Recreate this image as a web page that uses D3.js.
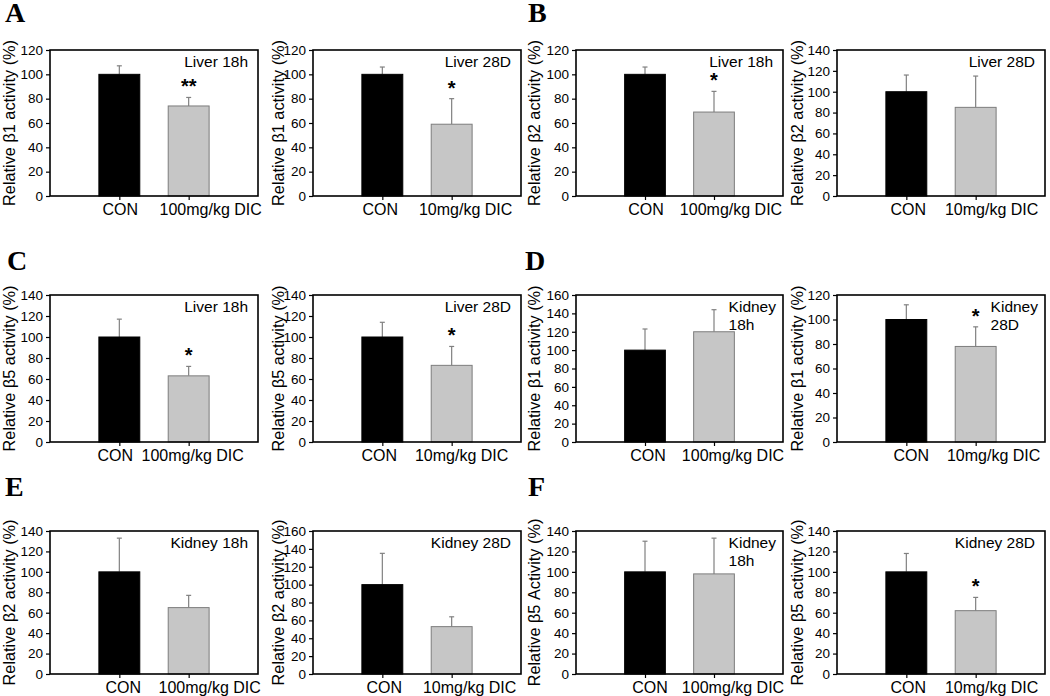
<!DOCTYPE html>
<html><head><meta charset="utf-8">
<script src="https://cdn.jsdelivr.net/npm/d3@7"></script>
<style>body{margin:0;background:#fff} svg{display:block}</style>
</head><body><svg id="c" width="1050" height="696"></svg>
<script>
// ---------- DATA ----------
const panelLetters = ["A", "B", "C", "D", "E", "F"];
const yTitles = [
  "Relative β1 activity (%)", "Relative β1 activity (%)",
  "Relative β2 activity (%)", "Relative β2 activity (%)",
  "Relative β5 activity (%)", "Relative β5 activity (%)",
  "Relative β1 activity (%)", "Relative β1 activity (%)",
  "Relative β2 activity (%)", "Relative β2 activity (%)",
  "Relative β5 Activity (%)", "Relative β5 activity (%)"
];
const insetLabels = [
  ["Liver 18h"], ["Liver 28D"], ["Liver 18h"], ["Liver 28D"],
  ["Liver 18h"], ["Liver 28D"], ["Kidney", "18h"], ["Kidney", "28D"],
  ["Kidney 18h"], ["Kidney 28D"], ["Kidney", "18h"], ["Kidney 28D"]
];
const controlLabel = "CON";
const treatmentLabels = [
  "100mg/kg DIC", "10mg/kg DIC", "100mg/kg DIC", "10mg/kg DIC",
  "100mg/kg DIC", "10mg/kg DIC", "100mg/kg DIC", "10mg/kg DIC",
  "100mg/kg DIC", "10mg/kg DIC", "100mg/kg DIC", "10mg/kg DIC"
];
const yMaxes = [120, 120, 120, 140, 140, 140, 160, 120, 140, 160, 140, 140];
const conMeans = [100, 100, 100, 100, 100, 100, 100, 100, 100, 100, 100, 100];
const conErrs  = [7, 6, 6, 16, 17, 14, 23, 12, 33, 35, 30, 18];
const dicMeans = [74, 59, 69, 85, 63, 73, 120, 78, 65, 53, 98, 62];
const dicErrs  = [7, 21, 17, 30, 9, 18, 24, 16, 12, 11, 35, 13];
const stars    = ["**", "*", "*", "", "*", "*", "", "*", "", "", "", "*"];

// ---------- LAYOUT ----------
const colX = [[50, 258], [313, 521], [576, 783], [837, 1045]];
const rowY = [[50, 196], [295, 442], [531, 674]];
const titleOffset = [41, 35, 42, 40];
const dicLabelShift = [22, 14, 17, 16, 4, 10, 19, 18, 21, 18, 19, 16];
const conLabelShift = [1, -2, 1, 2, -4, -3, 3, 5, 4, 2, 5, 2];
const letterPos = [[5, 22], [528, 22], [7, 270], [525, 270], [5, 496], [528, 496]];

const svg = d3.select("#c");
const sans = "Liberation Sans, Arial, sans-serif";

// panel letters
svg.selectAll("text.letter").data(panelLetters).join("text")
  .attr("class", "letter")
  .attr("x", (d, i) => letterPos[i][0])
  .attr("y", (d, i) => letterPos[i][1])
  .attr("font-family", "Liberation Serif, Times New Roman, serif")
  .attr("font-weight", "bold")
  .attr("font-size", 28)
  .text(d => d);

yMaxes.forEach((yMax, i) => {
  const row = Math.floor(i / 4), col = i % 4;
  const [x0, x1] = colX[col];
  const [yt, yb] = rowY[row];
  const x = d3.scaleLinear().domain([0, 3]).range([x0, x1]);
  const y = d3.scaleLinear().domain([0, yMax]).range([yb, yt]);
  const g = svg.append("g");

  const bars = [
    { label: controlLabel, mean: conMeans[i], err: conErrs[i], pos: 1, fill: "#000", stroke: "#000", shift: conLabelShift[i], star: "" },
    { label: treatmentLabels[i], mean: dicMeans[i], err: dicErrs[i], pos: 2, fill: "#c6c6c6", stroke: "#7d7d7d", shift: dicLabelShift[i], star: stars[i] }
  ];
  const hw = 0.295;

  // error bars
  g.selectAll("line.err").data(bars).join("line")
    .attr("x1", d => x(d.pos)).attr("x2", d => x(d.pos))
    .attr("y1", d => y(d.mean)).attr("y2", d => y(d.mean + d.err))
    .attr("stroke", "#808080").attr("stroke-width", 1.2);
  g.selectAll("line.cap").data(bars).join("line")
    .attr("x1", d => x(d.pos) - 2.5).attr("x2", d => x(d.pos) + 2.5)
    .attr("y1", d => y(d.mean + d.err)).attr("y2", d => y(d.mean + d.err))
    .attr("stroke", "#808080").attr("stroke-width", 1.2);

  // bars
  g.selectAll("rect.bar").data(bars).join("rect")
    .attr("x", d => x(d.pos - hw))
    .attr("width", d => x(d.pos + hw) - x(d.pos - hw))
    .attr("y", d => y(d.mean))
    .attr("height", d => y(0) - y(d.mean))
    .attr("fill", d => d.fill)
    .attr("stroke", d => d.stroke)
    .attr("stroke-width", 1);

  // stars
  g.selectAll("text.star").data(bars.filter(d => d.star)).join("text")
    .attr("x", d => x(d.pos))
    .attr("y", d => y(d.mean + d.err) - 4)
    .attr("text-anchor", "middle")
    .attr("font-family", sans).attr("font-weight", "bold").attr("font-size", 20)
    .text(d => d.star);

  // frame
  g.append("rect")
    .attr("x", x0).attr("y", yt).attr("width", x1 - x0).attr("height", yb - yt)
    .attr("fill", "none").attr("stroke", "#000").attr("stroke-width", 1.6);

  // y axis
  const ax = g.append("g").attr("transform", `translate(${x0},0)`)
    .call(d3.axisLeft(y).tickValues(d3.range(0, yMax + 1, 20)).tickSize(4).tickPadding(3));
  ax.select(".domain").remove();
  ax.selectAll(".tick line").attr("stroke", "#000").attr("stroke-width", 1.2);
  ax.selectAll(".tick text").attr("font-family", sans).attr("font-size", 13.5).attr("fill", "#000");

  // x axis ticks (at bar centres, outward)
  const bx = g.append("g").attr("transform", `translate(0,${yb})`)
    .call(d3.axisBottom(x).tickValues(bars.map(d => d.pos)).tickSize(4).tickFormat(""));
  bx.select(".domain").remove();
  bx.selectAll(".tick line").attr("stroke", "#000").attr("stroke-width", 1.2);

  // y title
  const cx = x0 - titleOffset[col], cy = (yt + yb) / 2;
  g.append("text")
    .attr("transform", `translate(${cx + 6},${cy}) rotate(-90)`)
    .attr("text-anchor", "middle")
    .attr("font-family", sans).attr("font-size", 16.3)
    .text(yTitles[i]);

  // category labels
  g.selectAll("text.cat").data(bars).join("text")
    .attr("x", d => x(d.pos) + d.shift)
    .attr("y", yb + 19)
    .attr("text-anchor", "middle")
    .attr("font-family", sans).attr("font-size", 16)
    .text(d => d.label);

  // inset label
  const lines = insetLabels[i];
  if (lines.length === 1) {
    g.append("text")
      .attr("x", x1 - 10).attr("y", yt + 17)
      .attr("text-anchor", "end")
      .attr("font-family", sans).attr("font-size", 15.5)
      .text(lines[0]);
  } else {
    const t = g.append("text")
      .attr("font-family", sans).attr("font-size", 15.5);
    t.append("tspan").attr("y", yt + 17).text(lines[0]);
    const w = t.node().getComputedTextLength();
    const sx = x1 - 7 - w;
    t.select("tspan").attr("x", sx);
    t.append("tspan").attr("x", sx).attr("y", yt + 35).text(lines[1]);
  }
});
</script></body></html>
